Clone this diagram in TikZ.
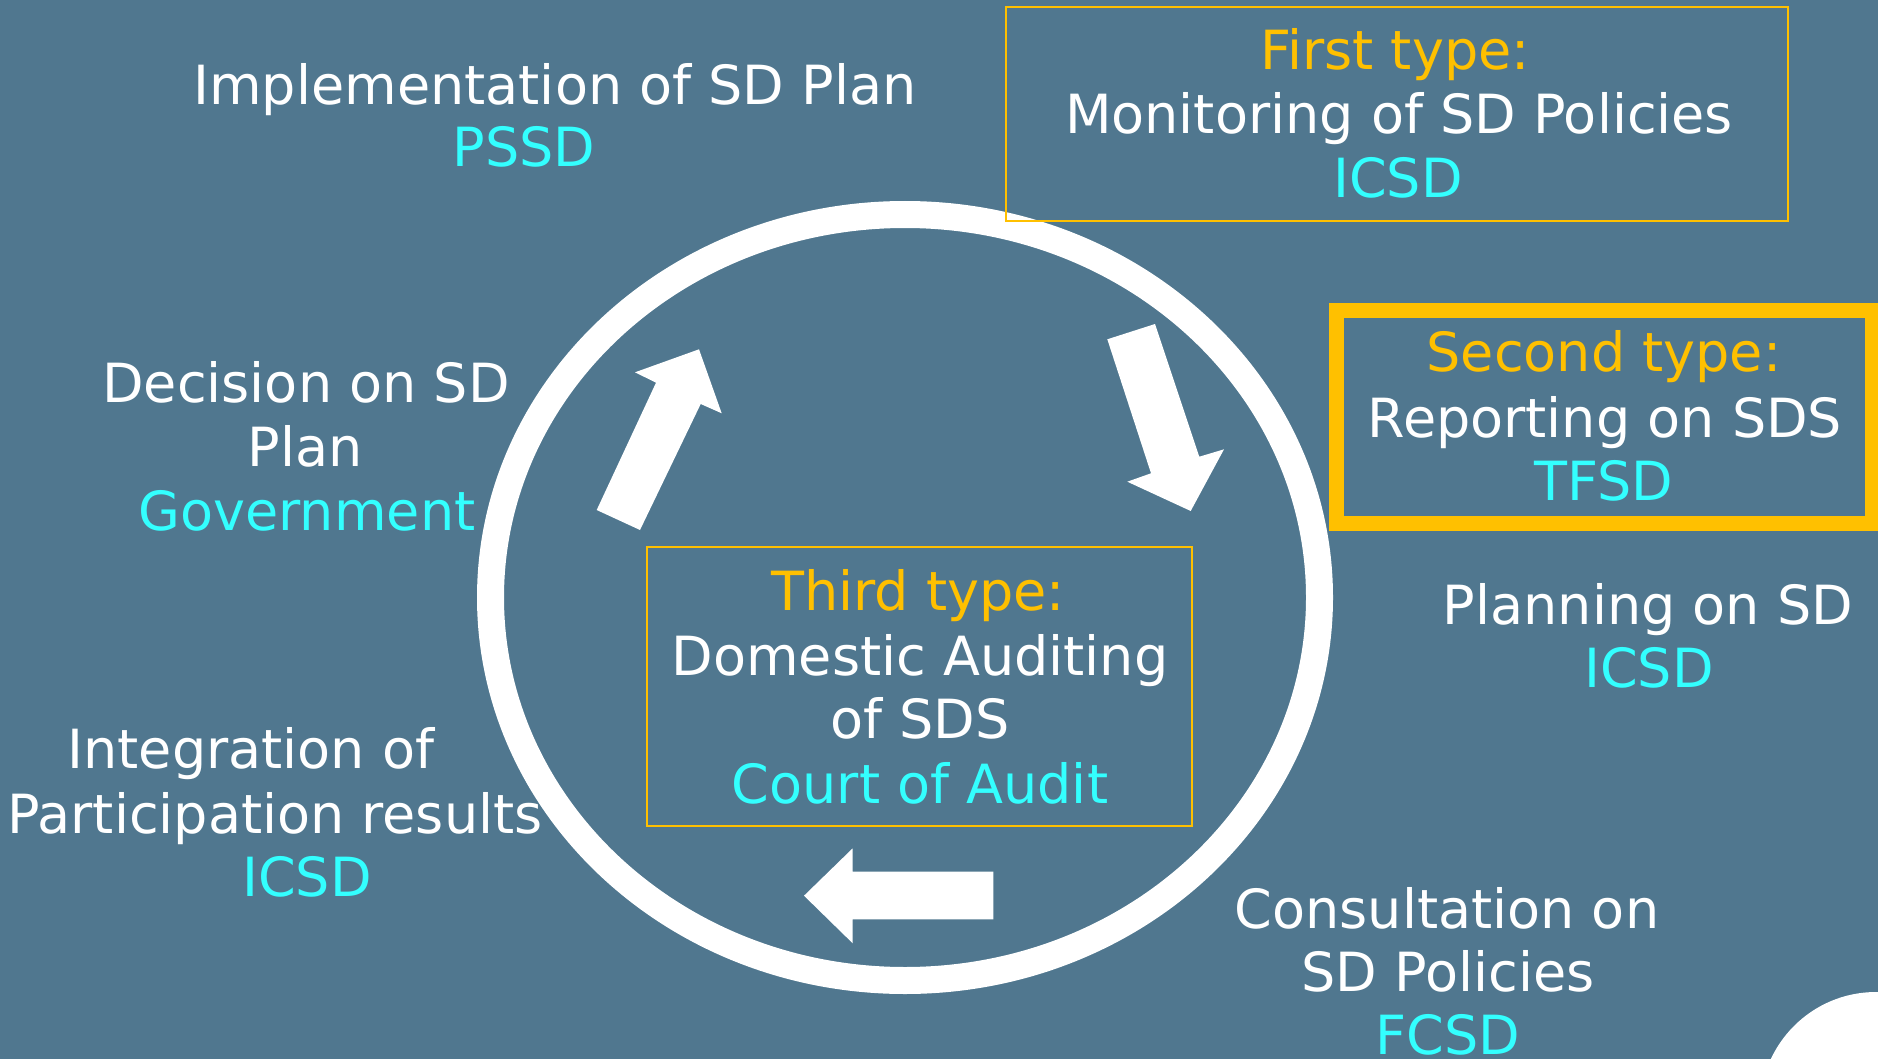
\documentclass[tikz,border=0pt]{standalone}
\usepackage{fontspec}
\setmainfont{DejaVu Sans}
\definecolor{bg}{RGB}{80,119,143}
\definecolor{gold}{RGB}{255,192,0}
\definecolor{aqua}{RGB}{51,255,255}
\begin{document}
\begin{tikzpicture}[x=1pt,y=-1pt,
  txt/.style={anchor=base, inner sep=0pt, text=white, font=\fontsize{54}{64}\selectfont},
  hd/.style={txt, text=gold},
  who/.style={txt, text=aqua},
  blockarrow/.style={fill=white, draw=none},
  thinbox/.style={draw=gold, line width=2.5pt},
  thickbox/.style={draw=gold, line width=15pt}]
\useasboundingbox (0,0) rectangle (1878,1059);
\clip (0,0) rectangle (1878,1059);
\fill[bg] (0,0) rectangle (1878,1059);

% decorative corner disc
\fill[white] (1876,1108) circle [radius=116pt];

% cycle ring
\draw[white, line width=27pt] (905,597.5) ellipse [x radius=414.5pt, y radius=383pt];

% boxes
\draw[thinbox] (1006,7) rectangle (1788,221);
\draw[thickbox] (1336.5,310.5) rectangle (1872.5,523.5);
\draw[thinbox] (647,547) rectangle (1192,826);

% block arrows
\fill[blockarrow] (596.7,510) -- (656,382.7) -- (635,372.3) -- (699,349.3) -- (721.7,413.3) -- (700.7,404) -- (640,530) -- cycle;
\fill[blockarrow] (1107.3,339.3) -- (1155,324) -- (1199.3,456.7) -- (1224,449.3) -- (1190.7,511) -- (1127.3,481.7) -- (1151,473.3) -- cycle;
\fill[blockarrow] (804,895.7) -- (852.7,848.3) -- (852.7,871.7) -- (993.3,871.7) -- (993.3,919.3) -- (852.7,919.3) -- (852.7,943.3) -- cycle;

% texts
\node[txt] (a1) at (555,105) {Implementation of SD Plan};
\node[who] (a2) at (524,167) {PSSD};

\node[txt] (b1) at (306,402) {Decision on SD};
\node[txt] (b2) at (305,466) {Plan};
\node[who] (b3) at (307,530) {Government};

\node[txt] (c1) at (251,768) {Integration of};
\node[txt] (c2) at (275,833) {Participation results};
\node[who] (c3) at (307,896) {ICSD};

\node[hd] (d1) at (1395,70) {First type:};
\node[txt] (d2) at (1399,134) {Monitoring of SD Policies};
\node[who] (d3) at (1398,198) {ICSD};

\node[hd] (e1) at (1604,371) {Second type:};
\node[txt] (e2) at (1605,437) {Reporting on SDS};
\node[who] (e3) at (1604,500) {TFSD};

\node[hd] (f1) at (918,610) {Third type:};
\node[txt] (f2) at (920,675) {Domestic Auditing};
\node[txt] (f3) at (920,738) {of SDS};
\node[who] (f4) at (920,803) {Court of Audit};

\node[txt] (g1) at (1648,624) {Planning on SD};
\node[who] (g2) at (1649,687) {ICSD};

\node[txt] (h1) at (1447,928) {Consultation on};
\node[txt] (h2) at (1448,991) {SD Policies};
\node[who] (h3) at (1448,1054) {FCSD};
\end{tikzpicture}
\end{document}
